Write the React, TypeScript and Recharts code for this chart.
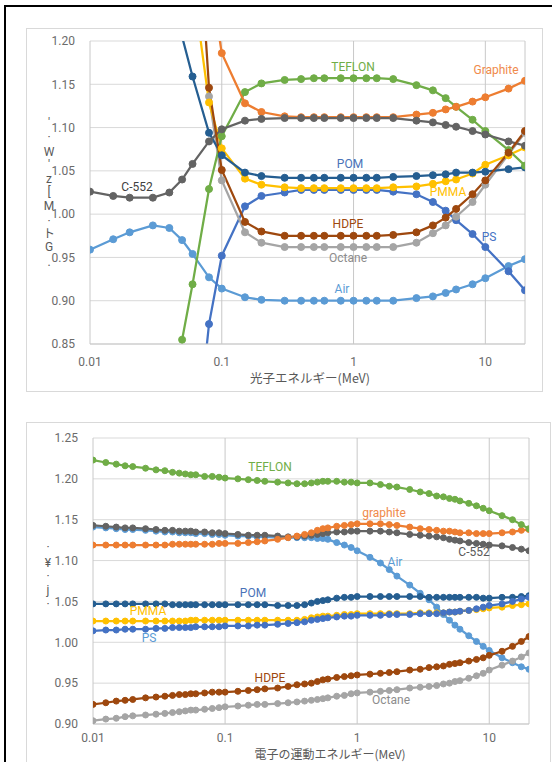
import { CartesianGrid, Line, LineChart, XAxis, YAxis } from 'recharts'

// photon energies (MeV) for the upper chart
const photonEnergy = [
  0.01, 0.015, 0.02, 0.03, 0.04, 0.05, 0.06, 0.08, 0.1, 0.15, 0.2, 0.3, 0.4, 0.5,
  0.6, 0.8, 1, 1.25, 1.5, 2, 3, 4, 5, 6, 8, 10, 15, 20,
]

const airP = [0.959, 0.971, 0.979, 0.987, 0.984, 0.97, 0.954, 0.927, 0.914, 0.904, 0.901, 0.9, 0.9, 0.9, 0.9, 0.9, 0.9, 0.9, 0.9, 0.9, 0.903, 0.905, 0.909, 0.913, 0.919, 0.926, 0.94, 0.948]
const c552P = [1.026, 1.021, 1.019, 1.019, 1.025, 1.04, 1.058, 1.084, 1.098, 1.108, 1.11, 1.111, 1.111, 1.111, 1.111, 1.111, 1.111, 1.111, 1.111, 1.111, 1.108, 1.106, 1.103, 1.101, 1.096, 1.092, 1.084, 1.079]
const graphiteP = [null, null, null, null, null, null, null, 1.28, 1.186, 1.128, 1.118, 1.113, 1.112, 1.112, 1.112, 1.112, 1.112, 1.112, 1.112, 1.112, 1.115, 1.117, 1.121, 1.124, 1.13, 1.135, 1.145, 1.154]
const teflonP = [null, null, null, null, null, 0.855, 0.919, 1.029, 1.09, 1.141, 1.151, 1.155, 1.156, 1.157, 1.157, 1.157, 1.157, 1.157, 1.157, 1.156, 1.149, 1.143, 1.134, 1.124, 1.109, 1.096, 1.074, 1.056]
const pomP = [null, null, null, null, null, 1.205, 1.159, 1.094, 1.068, 1.048, 1.044, 1.042, 1.042, 1.042, 1.042, 1.042, 1.042, 1.042, 1.042, 1.043, 1.044, 1.045, 1.046, 1.048, 1.048, 1.049, 1.052, 1.054]
const pmmaP = [null, null, null, null, null, null, 1.27, 1.129, 1.076, 1.041, 1.034, 1.031, 1.03, 1.03, 1.03, 1.03, 1.03, 1.03, 1.03, 1.031, 1.032, 1.035, 1.038, 1.04, 1.047, 1.057, 1.068, 1.077]
const hdpeP = [null, null, null, null, null, null, 1.44, 1.146, 1.051, 0.991, 0.98, 0.975, 0.975, 0.975, 0.975, 0.975, 0.975, 0.975, 0.975, 0.976, 0.979, 0.987, 0.996, 1.006, 1.023, 1.039, 1.071, 1.096]
const octaneP = [null, null, null, null, null, null, null, 1.136, 1.039, 0.979, 0.967, 0.962, 0.962, 0.962, 0.962, 0.962, 0.962, 0.962, 0.962, 0.962, 0.967, 0.978, 0.987, 0.997, 1.014, 1.034, 1.069, 1.094]
const psP = [null, null, null, null, null, null, 0.69, 0.873, 0.952, 1.009, 1.021, 1.025, 1.028, 1.028, 1.028, 1.028, 1.028, 1.028, 1.028, 1.026, 1.023, 1.014, 1.004, 0.993, 0.977, 0.962, 0.934, 0.912]

// electron kinetic energies (MeV) for the lower chart
const electronEnergy = [
  0.01, 0.0125, 0.015, 0.0175, 0.02, 0.025, 0.03, 0.035, 0.04, 0.045, 0.05, 0.055, 0.06, 0.07, 0.08, 0.09, 0.1,
  0.125, 0.15, 0.175, 0.2, 0.25, 0.3, 0.35, 0.4, 0.45, 0.5, 0.55, 0.6, 0.7, 0.8, 0.9, 1,
  1.25, 1.5, 1.75, 2, 2.5, 3, 3.5, 4, 4.5, 5, 5.5, 6, 7, 8, 9, 10,
  12.5, 15, 17.5, 20,
]

const teflonE = [
  1.223, 1.22, 1.218, 1.216, 1.215, 1.213, 1.211, 1.21, 1.208, 1.207, 1.206, 1.205, 1.205, 1.203, 1.203, 1.202, 1.201,
  1.2, 1.199, 1.198, 1.197, 1.196, 1.195, 1.194, 1.194, 1.195, 1.196, 1.197, 1.197, 1.197, 1.196, 1.196, 1.195,
  1.195, 1.193, 1.191, 1.19, 1.187, 1.184, 1.182, 1.179, 1.178, 1.176, 1.175, 1.173, 1.17, 1.167, 1.164, 1.161,
  1.155, 1.15, 1.144, 1.139,
]
const graphiteE = [
  1.119, 1.119, 1.119, 1.119, 1.119, 1.119, 1.119, 1.119, 1.12, 1.12, 1.12, 1.12, 1.12, 1.12, 1.12, 1.121, 1.121,
  1.121, 1.122, 1.123, 1.124, 1.126, 1.128, 1.13, 1.132, 1.134, 1.137, 1.139, 1.14, 1.142, 1.143, 1.144, 1.145,
  1.145, 1.145, 1.144, 1.143, 1.141, 1.139, 1.138, 1.137, 1.136, 1.136, 1.135, 1.134, 1.134, 1.133, 1.133, 1.133,
  1.134, 1.135, 1.137, 1.138,
]
const c552E = [
  1.143, 1.142, 1.141, 1.14, 1.14, 1.139, 1.138, 1.137, 1.137, 1.136, 1.136, 1.136, 1.135, 1.135, 1.134, 1.134, 1.133,
  1.132, 1.131, 1.131, 1.131, 1.13, 1.129, 1.129, 1.13, 1.131, 1.132, 1.133, 1.134, 1.135, 1.135, 1.136, 1.136,
  1.136, 1.136, 1.135, 1.134, 1.132, 1.131, 1.13, 1.129, 1.128, 1.126, 1.125, 1.124, 1.122, 1.121, 1.12, 1.119,
  1.118, 1.116, 1.114, 1.112,
]
const airE = [
  1.141, 1.14, 1.139, 1.138, 1.138, 1.137, 1.136, 1.135, 1.135, 1.134, 1.134, 1.134, 1.133, 1.133, 1.132, 1.132, 1.131,
  1.13, 1.13, 1.129, 1.129, 1.128, 1.128, 1.128, 1.128, 1.128, 1.127, 1.127, 1.126, 1.122, 1.119, 1.116, 1.112,
  1.104, 1.097, 1.089, 1.081, 1.07, 1.06, 1.052, 1.043, 1.034, 1.027, 1.021, 1.016, 1.008, 1.001, 0.995, 0.99,
  0.981, 0.975, 0.97, 0.967,
]
const pomE = [
  1.047, 1.047, 1.047, 1.047, 1.047, 1.047, 1.047, 1.047, 1.046, 1.046, 1.046, 1.046, 1.046, 1.046, 1.046, 1.046, 1.046,
  1.046, 1.046, 1.046, 1.046, 1.045, 1.045, 1.045, 1.046, 1.048, 1.05, 1.051, 1.052, 1.054, 1.055, 1.055, 1.056,
  1.056, 1.056, 1.056, 1.056, 1.056, 1.056, 1.055, 1.055, 1.055, 1.055, 1.055, 1.055, 1.055, 1.055, 1.054, 1.054,
  1.055, 1.055, 1.056, 1.057,
]
const pmmaE = [
  1.026, 1.026, 1.026, 1.026, 1.026, 1.026, 1.026, 1.026, 1.026, 1.026, 1.026, 1.027, 1.027, 1.027, 1.027, 1.027, 1.027,
  1.027, 1.027, 1.027, 1.027, 1.027, 1.027, 1.027, 1.028, 1.03, 1.031, 1.032, 1.032, 1.033, 1.034, 1.034, 1.035,
  1.035, 1.035, 1.035, 1.035, 1.035, 1.036, 1.036, 1.036, 1.036, 1.037, 1.037, 1.038, 1.039, 1.04, 1.041, 1.042,
  1.043, 1.045, 1.046, 1.047,
]
const psE = [
  1.014, 1.015, 1.015, 1.016, 1.016, 1.016, 1.017, 1.017, 1.018, 1.018, 1.018, 1.018, 1.019, 1.019, 1.019, 1.019, 1.02,
  1.02, 1.02, 1.021, 1.021, 1.022, 1.023, 1.024, 1.025, 1.027, 1.028, 1.029, 1.03, 1.031, 1.032, 1.032, 1.033,
  1.033, 1.033, 1.034, 1.034, 1.034, 1.035, 1.035, 1.035, 1.036, 1.037, 1.037, 1.038, 1.039, 1.041, 1.043, 1.045,
  1.047, 1.05, 1.053, 1.055,
]
const hdpeE = [
  0.924, 0.926, 0.928, 0.929, 0.93, 0.932, 0.933, 0.934, 0.935, 0.936, 0.936, 0.937, 0.937, 0.938, 0.939, 0.939, 0.939,
  0.94, 0.941, 0.942, 0.943, 0.944, 0.946, 0.948, 0.949, 0.95, 0.952, 0.954, 0.955, 0.957, 0.958, 0.959, 0.96,
  0.961, 0.962, 0.963, 0.964, 0.966, 0.967, 0.969, 0.97, 0.971, 0.973, 0.974, 0.975, 0.977, 0.979, 0.981, 0.984,
  0.989, 0.995, 1.001, 1.007,
]
const octaneE = [
  0.904, 0.906, 0.907, 0.909, 0.91, 0.911, 0.912, 0.913, 0.914, 0.915, 0.916, 0.917, 0.917, 0.918, 0.919, 0.92, 0.921,
  0.922, 0.923, 0.924, 0.924, 0.925, 0.926, 0.927, 0.928, 0.929, 0.93, 0.931, 0.932, 0.934, 0.935, 0.937, 0.938,
  0.939, 0.94, 0.941, 0.942, 0.944, 0.945, 0.946, 0.947, 0.949, 0.95, 0.952, 0.953, 0.956, 0.959, 0.962, 0.966,
  0.972, 0.977, 0.982, 0.987,
]

const xTicks = [0.01, 0.1, 1, 10]
const yTicksTop = [0.85, 0.9, 0.95, 1.0, 1.05, 1.1, 1.15, 1.2]
const yTicksBottom = [0.9, 0.95, 1.0, 1.05, 1.1, 1.15, 1.2, 1.25]

const C = {
  air: '#5B9BD5',
  c552: '#636363',
  graphite: '#ED7D31',
  teflon: '#70AD47',
  pom: '#255E91',
  pmma: '#FFC000',
  hdpe: '#9E480E',
  octane: '#A5A5A5',
  ps: '#4472C4',
}

const topData = photonEnergy.map((e, i) => ({
  e,
  air: airP[i],
  c552: c552P[i],
  graphite: graphiteP[i],
  teflon: teflonP[i],
  pom: pomP[i],
  pmma: pmmaP[i],
  hdpe: hdpeP[i],
  octane: octaneP[i],
  ps: psP[i],
}))

const bottomData = electronEnergy.map((e, i) => ({
  e,
  air: airE[i],
  c552: c552E[i],
  graphite: graphiteE[i],
  teflon: teflonE[i],
  pom: pomE[i],
  pmma: pmmaE[i],
  hdpe: hdpeE[i],
  octane: octaneE[i],
  ps: psE[i],
}))

const topOrder = ['air', 'ps', 'octane', 'pmma', 'pom', 'teflon', 'graphite', 'c552', 'hdpe'] as const
const bottomOrder = ['air', 'c552', 'graphite', 'teflon', 'octane', 'hdpe', 'pom', 'pmma', 'ps'] as const

const FONT = "Roboto, 'Noto Sans CJK JP', sans-serif"
const tickStyle = { fontSize: 12, fill: '#6b6b6b', fontFamily: FONT }

function Label({ x, y, color, text }: { x: number; y: number; color: string; text: string }) {
  return (
    <div
      style={{
        position: 'absolute',
        left: x,
        top: y,
        transform: 'translate(-50%, -50%)',
        color,
        fontSize: 12,
        fontFamily: FONT,
        whiteSpace: 'nowrap',
        lineHeight: 1,
      }}
    >
      {text}
    </div>
  )
}

// the y-axis titles come out as a column of stray glyphs in the original
function VChars({ x, items }: { x: number; items: [string, number][] }) {
  return (
    <>
      {items.map(([ch, y], i) => (
        <div
          key={i}
          style={{
            position: 'absolute',
            left: x,
            top: y,
            transform: 'translate(-50%, -50%)',
            color: '#595959',
            fontSize: 12,
            fontFamily: FONT,
            lineHeight: 1,
          }}
        >
          {ch}
        </div>
      ))}
    </>
  )
}

function Chart({
  data,
  order,
  yTicks,
  margin,
  height,
  dotR,
  xTickMargin,
}: {
  data: any[]
  order: readonly string[]
  yTicks: number[]
  margin: { top: number; right: number; bottom: number; left: number }
  height: number
  dotR: number
  xTickMargin: number
}) {
  return (
    <LineChart width={552} height={height} data={data} margin={margin}>
      <CartesianGrid vertical={false} stroke="#D9D9D9" />
      <CartesianGrid horizontal={false} stroke="#C8C8C8" />
      <XAxis
        dataKey="e"
        type="number"
        scale="log"
        domain={[0.01, 20]}
        ticks={xTicks}
        allowDataOverflow
        tickLine={false}
        tickSize={6}
        tickMargin={xTickMargin}
        axisLine={{ stroke: '#C8C8C8' }}
        tick={tickStyle}
        height={30}
        interval={0}
      />
      <YAxis
        type="number"
        domain={[yTicks[0], yTicks[yTicks.length - 1]]}
        ticks={yTicks}
        allowDataOverflow
        axisLine={false}
        tickLine={false}
        tickSize={6}
        tickMargin={9}
        width={60}
        tick={tickStyle}
        tickFormatter={(v: number) => v.toFixed(2)}
        interval={0}
      />
      {order.map((k) => (
        <Line
          key={k}
          dataKey={k}
          type="linear"
          stroke={(C as any)[k]}
          strokeWidth={2.25}
          dot={{ r: dotR, fill: (C as any)[k], stroke: (C as any)[k], strokeWidth: 1 }}
          activeDot={false}
          isAnimationActive={false}
        />
      ))}
    </LineChart>
  )
}

export default function App() {
  return (
    <div
      style={{
        position: 'absolute',
        left: 0,
        top: 0,
        width: 552,
        height: 762,
        overflow: 'hidden',
        background: '#fff',
        fontFamily: FONT,
      }}
    >
      {/* page frame */}
      <div style={{ position: 'absolute', left: 4, top: 5, width: 560, height: 780, borderLeft: '2px solid #000', borderTop: '2px solid #000' }} />
      {/* chart area boxes */}
      <div style={{ position: 'absolute', left: 26, top: 28, width: 515, height: 362, border: '1px solid #D9D9D9' }} />
      <div style={{ position: 'absolute', left: 26, top: 422, width: 523, height: 360, border: '1px solid #D9D9D9' }} />

      <div style={{ position: 'absolute', left: 0, top: 0 }}>
        <Chart data={topData} order={topOrder} yTicks={yTicksTop} margin={{ top: 41, right: 27, bottom: 26, left: 30 }} height={400} dotR={3.5} xTickMargin={7} />
      </div>
      <div style={{ position: 'absolute', left: 0, top: 400 }}>
        <Chart data={bottomData} order={bottomOrder} yTicks={yTicksBottom} margin={{ top: 38, right: 23, bottom: 8, left: 33 }} height={362} dotR={3} xTickMargin={3} />
      </div>

      {/* axis titles */}
      <div style={{ position: 'absolute', left: 310, top: 378, transform: 'translate(-50%, -50%)', fontSize: 12.5, lineHeight: 1, color: '#595959', whiteSpace: 'nowrap', fontFamily: "'Noto Sans CJK JP', sans-serif" }}>
        光子エネルギー(MeV)
      </div>
      <div style={{ position: 'absolute', left: 330, top: 754, transform: 'translate(-50%, -50%)', fontSize: 12, lineHeight: 1, color: '#595959', whiteSpace: 'nowrap', fontFamily: "'Noto Sans CJK JP', sans-serif" }}>
        電子の運動エネルギー(MeV)
      </div>
      <VChars
        x={49}
        items={[
          ["'", 123], ['·', 137], ['W', 152], ["'", 165], ['z', 179], ['[', 192],
          ['M', 206], ['·', 221], ['ト', 234], ['G', 247], ['.', 262],
        ]}
      />
      <VChars x={48} items={[['·', 547], ['¥', 563], ['·', 576], ['j', 590], ['·', 604]]} />

      {/* series labels, upper chart */}
      <Label x={353} y={67} color="#70AD47" text="TEFLON" />
      <Label x={496} y={70} color="#F08A4B" text="Graphite" />
      <Label x={137} y={187} color="#404040" text="C-552" />
      <Label x={350} y={164} color="#4A72B8" text="POM" />
      <Label x={448} y={192} color="#FFC000" text="PMMA" />
      <Label x={348} y={224} color="#9E480E" text="HDPE" />
      <Label x={348} y={258} color="#8C8C8C" text="Octane" />
      <Label x={489} y={237} color="#4472C4" text="PS" />
      <Label x={342} y={289} color="#5B9BD5" text="Air" />

      {/* series labels, lower chart */}
      <Label x={270} y={467} color="#70AD47" text="TEFLON" />
      <Label x={384} y={513} color="#F08A4B" text="graphite" />
      <Label x={474} y={552} color="#595959" text="C-552" />
      <Label x={395} y={562} color="#5B9BD5" text="Air" />
      <Label x={253} y={593} color="#4A72B8" text="POM" />
      <Label x={148} y={611} color="#FFC000" text="PMMA" />
      <Label x={149} y={638} color="#5B9BD5" text="PS" />
      <Label x={270} y={678} color="#9E480E" text="HDPE" />
      <Label x={391} y={700} color="#8C8C8C" text="Octane" />
    </div>
  )
}
